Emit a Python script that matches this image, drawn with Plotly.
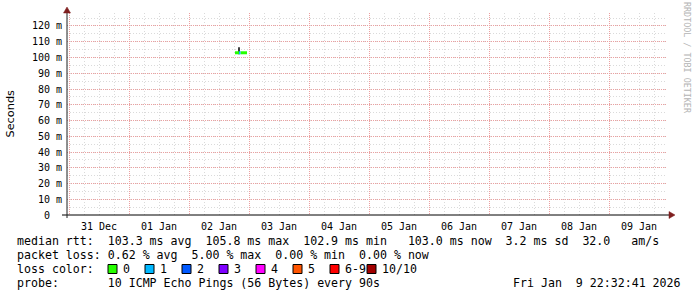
import plotly.graph_objects as go

# ---------------- data ----------------
x_start = "2025-12-30 23:12:00"
x_end = "2026-01-09 23:12:00"

# median rtt segments (seconds), coloured by packet loss
green_times = ["2026-01-02 18:24", "2026-01-02 20:00", None, "2026-01-02 20:36", "2026-01-02 23:12"]
green_vals = [0.1030, 0.1030, None, 0.1030, 0.1030]
blue_times = ["2026-01-02 20:00", "2026-01-02 20:36"]
blue_vals = [0.1030, 0.1030]
smoke_times = ["2026-01-02 20:00", "2026-01-02 20:00"]
smoke_vals = [0.1020, 0.1065]

y_tickvals = [0, 0.01, 0.02, 0.03, 0.04, 0.05, 0.06, 0.07, 0.08, 0.09, 0.10, 0.11, 0.12]
y_ticktext = ["0  ", "10 m", "20 m", "30 m", "40 m", "50 m", "60 m", "70 m", "80 m", "90 m",
              "100 m", "110 m", "120 m"]

loss_labels = ["0", "1", "2", "3", "4", "5", "6-9", "10/10"]
loss_colors = ["#26ff00", "#00b8ff", "#0059ff", "#7e00ff", "#ff00ff", "#ff5500", "#ff0000", "#a10000"]

line_median = "median rtt:  103.3 ms avg  105.8 ms max  102.9 ms min   103.0 ms now  3.2 ms sd  32.0   am/s"
line_loss = "packet loss: 0.62 % avg  5.00 % max  0.00 % min  0.00 % now"
line_color = "loss color:"
line_probe = "probe:       10 ICMP Echo Pings (56 Bytes) every 90s"
stamp = "Fri Jan  9 22:32:41 2026"

# ---------------- layout helpers ----------------
W, H = 697, 297
L, R, T, B = 67, 30, 13, 82
PW, PH = W - L - R, H - T - B
Y_ZERO = T + PH


def px(x):
    return (x - L) / PW


def py(y):
    return (Y_ZERO - y) / PH


MONO = "DejaVu Sans Mono"
FS = 11.6
GRID = "rgb(218,218,218)"
MGRID = "rgb(236,160,160)"
ARROW = "#7f1f1f"


def nb(s):
    return s.replace(" ", "\u00a0")


fig = go.Figure()
fig.add_trace(go.Scatter(x=smoke_times, y=smoke_vals, mode="lines",
                         line=dict(color="#000000", width=1.5), hoverinfo="skip"))
fig.add_trace(go.Scatter(x=green_times, y=green_vals, mode="lines",
                         line=dict(color=loss_colors[0], width=3), connectgaps=False))
fig.add_trace(go.Scatter(x=blue_times, y=blue_vals, mode="lines",
                         line=dict(color=loss_colors[1], width=3)))

fig.update_layout(
    width=W, height=H, margin=dict(l=L, r=R, t=T, b=B, pad=0),
    paper_bgcolor="#ffffff", plot_bgcolor="#ffffff", showlegend=False,
    font=dict(family=MONO, size=10, color="#000000"),
)

fig.update_xaxes(
    type="date", range=[x_start, x_end],
    tick0="2025-12-31", dtick=86400000, ticklabelmode="period", tickformat="%d %b",
    showgrid=True, gridcolor=MGRID, griddash="1px,1px", gridwidth=1,
    minor=dict(dtick=21600000, tick0="2025-12-31", showgrid=True, gridcolor=GRID,
               griddash="1px,2px", gridwidth=1),
    ticks="", showline=False, zeroline=False, ticklabelstandoff=4,
    tickfont=dict(family=MONO, size=10, color="#000000"),
)
fig.update_yaxes(
    range=[0, 0.12825], tickvals=y_tickvals, ticktext=[nb(t) for t in y_ticktext],
    showgrid=True, gridcolor=MGRID, griddash="1px,1px", gridwidth=1,
    minor=dict(dtick=0.005, tick0=0, showgrid=True, gridcolor=GRID,
               griddash="1px,2px", gridwidth=1),
    ticks="", showline=False, zeroline=False, ticklabelstandoff=4,
    tickfont=dict(family=MONO, size=10, color="#000000"),
)

shapes = []
# axes
shapes.append(dict(type="line", xref="paper", yref="paper", x0=px(62), x1=px(670),
                   y0=0, y1=0, line=dict(color="#000000", width=1)))
shapes.append(dict(type="line", xref="paper", yref="paper", x0=0, x1=0,
                   y0=py(218), y1=py(10), line=dict(color="#202020", width=1)))
# arrows
shapes.append(dict(type="path", xref="paper", yref="paper",
                   path=f"M {px(669)},{py(211.5)} L {px(675)},{py(215)} L {px(669)},{py(218.5)} Z",
                   fillcolor=ARROW, line=dict(color=ARROW, width=0.5)))
shapes.append(dict(type="path", xref="paper", yref="paper",
                   path=f"M {px(63.5)},{py(13)} L {px(67)},{py(7)} L {px(70.5)},{py(13)} Z",
                   fillcolor=ARROW, line=dict(color=ARROW, width=0.5)))
# loss colour swatches
for i, c in enumerate(loss_colors):
    x0 = 108 + 37 * i
    shapes.append(dict(type="rect", xref="paper", yref="paper",
                       x0=px(x0), x1=px(x0 + 9), y0=py(273.5), y1=py(264.5),
                       fillcolor=c, line=dict(color="#000000", width=1)))

annotations = []


def text(s, x, y, **kw):
    d = dict(text=nb(s), xref="paper", yref="paper", x=px(x), y=py(y), showarrow=False,
             xanchor="left", yanchor="middle", font=dict(family=MONO, size=FS, color="#000000"))
    d.update(kw)
    annotations.append(d)


text(line_median, 15, 241.5)
text(line_loss, 15, 255.3)
text(line_color, 15, 269)
for i, lab in enumerate(loss_labels):
    text(lab, 121 + 37 * i, 269)
text(line_probe, 15, 282.8)
text(stamp, 511, 282.8)

annotations.append(dict(text="Seconds", xref="paper", yref="paper", x=px(10), y=py(113.5),
                        showarrow=False, textangle=-90, xanchor="center", yanchor="middle",
                        font=dict(family="DejaVu Sans", size=11.3, color="#000000")))
annotations.append(dict(text=nb("RRDTOOL / TOBI OETIKER"), xref="paper", yref="paper",
                        x=px(687), y=py(58), showarrow=False, textangle=90,
                        xanchor="center", yanchor="middle",
                        font=dict(family=MONO, size=8.4, color="#b4b4b4")))

fig.update_layout(shapes=shapes, annotations=annotations)

fig.write_html("out.html", config={"displayModeBar": False})
